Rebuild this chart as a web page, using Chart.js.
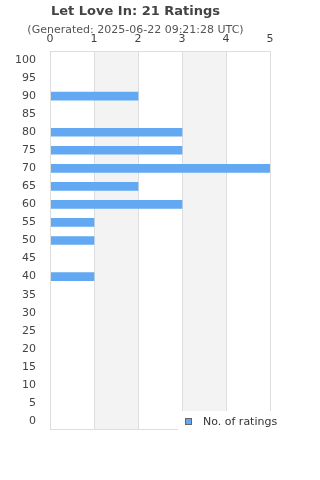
<!DOCTYPE html>
<html>
<head>
<meta charset="utf-8">
<script src="https://cdn.jsdelivr.net/npm/chart.js@4"></script>
<style>
  html, body { margin: 0; padding: 0; background: #fff; }
  #wrap { width: 320px; height: 480px; }
</style>
</head>
<body>
<div id="wrap"><canvas id="chart" width="320" height="480"></canvas></div>
<script>
const categories = ["100", "95", "90", "85", "80", "75", "70", "65", "60", "55", "50",
  "45", "40", "35", "30", "25", "20", "15", "10", "5", "0"];
const ratings = [0, 0, 2, 0, 3, 3, 5, 2, 3, 1, 1, 0, 1, 0, 0, 0, 0, 0, 0, 0, 0];
const xTicks = [0, 1, 2, 3, 4, 5];
const seriesName = "No. of ratings";
const titleText = "Let Love In: 21 Ratings";
const subtitleText = "(Generated: 2025-06-22 09:21:28 UTC)";

const barColor = "#62a8f2";
const fontFamily = "'DejaVu Sans', sans-serif";

// shaded bands behind the bars, plus the outer frame
const bands = {
  id: "bands",
  beforeDatasetsDraw(chart) {
    const { ctx, chartArea: a, scales: { x } } = chart;
    ctx.save();
    ctx.fillStyle = "#f3f3f3";
    for (let i = 1; i < xTicks.length - 1; i += 2) {
      const l = x.getPixelForValue(xTicks[i]);
      const r = x.getPixelForValue(xTicks[i + 1]);
      ctx.fillRect(l, a.top, r - l, a.bottom - a.top);
    }
    ctx.strokeStyle = "#dddddd";
    ctx.lineWidth = 1;
    xTicks.forEach(v => {
      const px = Math.round(x.getPixelForValue(v)) + 0.5;
      ctx.beginPath();
      ctx.moveTo(px, a.top);
      ctx.lineTo(px, a.bottom);
      ctx.stroke();
    });
    ctx.beginPath();
    ctx.moveTo(a.left, Math.round(a.top) + 0.5);
    ctx.lineTo(a.right, Math.round(a.top) + 0.5);
    ctx.moveTo(a.left, Math.round(a.bottom) - 0.5);
    ctx.lineTo(a.right, Math.round(a.bottom) - 0.5);
    ctx.stroke();
    ctx.restore();
  },
  afterDatasetsDraw(chart) {
    const { ctx, chartArea: a } = chart;
    ctx.save();
    ctx.strokeStyle = "#dddddd";
    ctx.lineWidth = 1;
    const px = Math.round(a.left) + 0.5;
    ctx.beginPath();
    ctx.moveTo(px, a.top);
    ctx.lineTo(px, a.bottom);
    ctx.stroke();
    ctx.restore();
  }
};

// floating legend box sitting over the lower right corner
const floatLegend = {
  id: "floatLegend",
  afterDraw(chart) {
    const { ctx } = chart;
    ctx.save();
    ctx.fillStyle = "#ffffff";
    ctx.fillRect(178, 411, 142, 40);
    ctx.fillStyle = barColor;
    ctx.fillRect(185, 418, 7, 7);
    ctx.strokeStyle = "#666666";
    ctx.lineWidth = 1;
    ctx.strokeRect(185.5, 418.5, 6, 6);
    ctx.fillStyle = "#333333";
    ctx.font = "11px " + fontFamily;
    ctx.textBaseline = "middle";
    ctx.fillText(seriesName, 203, 422);
    ctx.restore();
  }
};

new Chart(document.getElementById("chart"), {
  type: "bar",
  data: {
    labels: categories,
    datasets: [{
      label: seriesName,
      data: ratings,
      backgroundColor: barColor,
      borderWidth: 0,
      barThickness: 8
    }]
  },
  options: {
    indexAxis: "y",
    responsive: false,
    animation: false,
    layout: { padding: { left: 1, right: 50, bottom: 50, top: 0 } },
    plugins: {
      legend: { display: false },
      tooltip: { enabled: false },
      title: {
        display: true,
        text: titleText,
        color: "#444444",
        font: { family: fontFamily, size: 13, weight: "bold" },
        padding: { top: 4, bottom: 4 }
      },
      subtitle: {
        display: true,
        text: subtitleText,
        color: "#555555",
        font: { family: fontFamily, size: 11 },
        padding: { top: 0, bottom: -9 }
      }
    },
    scales: {
      x: {
        position: "top",
        min: 0,
        max: 5,
        afterBuildTicks: s => { s.ticks = xTicks.map(v => ({ value: v })); },
        grid: { display: false, drawTicks: false },
        border: { display: false },
        ticks: {
          color: "#444444",
          font: { family: fontFamily, size: 11 },
          padding: 5,
          maxRotation: 0
        }
      },
      y: {
        grid: { display: false, drawTicks: false },
        border: { display: false },
        ticks: {
          color: "#444444",
          font: { family: fontFamily, size: 11 },
          padding: 14,
          autoSkip: false
        }
      }
    }
  },
  plugins: [bands, floatLegend]
});
</script>
</body>
</html>
